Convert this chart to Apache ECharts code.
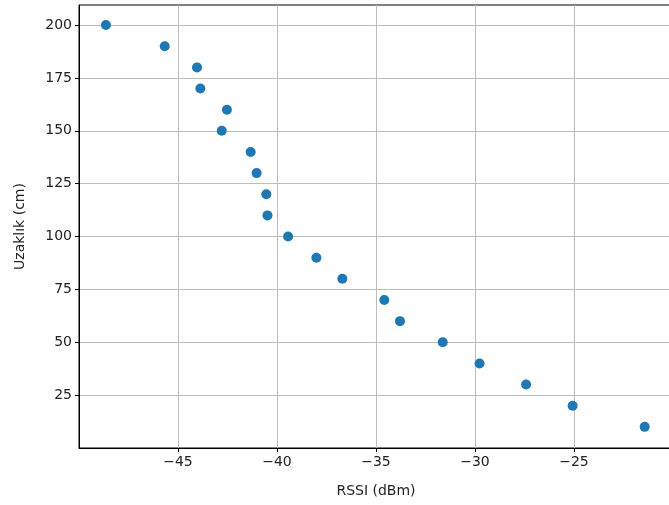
<!DOCTYPE html>
<html>
<head>
<meta charset="utf-8">
<script src="https://cdn.jsdelivr.net/npm/echarts@6/dist/echarts.min.js"></script>
<style>
html,body{margin:0;padding:0;background:#fff;}
#chart{width:669px;height:505px;}
</style>
</head>
<body>
<div id="chart"></div>
<script>
const rssi = [-48.64, -45.67, -44.04, -43.87, -42.53, -42.79, -41.33, -41.03, -40.54, -40.48,
              -39.44, -38.01, -36.70, -34.58, -33.79, -31.63, -29.77, -27.42, -25.07, -21.43];
const distance = [200, 190, 180, 170, 160, 150, 140, 130, 120, 110,
                  100, 90, 80, 70, 60, 50, 40, 30, 20, 10];
const xTicks = [-45, -40, -35, -30, -25];
const yTicks = [25, 50, 75, 100, 125, 150, 175, 200];
const xTitle = 'RSSI (dBm)';
const yTitle = 'Uzaklık (cm)';

const points = rssi.map((v, i) => [v, distance[i]]);
const font = 'DejaVu Sans';
const chart = echarts.init(document.getElementById('chart'));
chart.setOption({
  animation: false,
  backgroundColor: '#fff',
  grid: {left: 79, top: 5, width: 594, height: 443, outerBoundsMode: 'none', containLabel: false,
         show: true, borderColor: '#000', borderWidth: 1, backgroundColor: 'transparent'},
  xAxis: {
    type: 'value', min: -50, max: -20, interval: 5,
    name: xTitle, nameLocation: 'middle', nameGap: 36,
    nameTextStyle: {fontFamily: font, fontSize: 14, color: '#222'},
    axisLine: {show: true, lineStyle: {color: '#000', width: 1}},
    axisTick: {show: true, length: 4, inside: false, lineStyle: {color: '#000'}, customValues: xTicks},
    axisLabel: {fontFamily: font, fontSize: 14, color: '#222', margin: 7, customValues: xTicks,
      formatter: v => String(v).replace('-', '\u2212')},
    splitLine: {show: true, lineStyle: {color: '#bdbdbd', width: 1}}
  },
  yAxis: {
    type: 'value', min: 0, max: 209.5, interval: 25,
    name: yTitle, nameLocation: 'middle', nameGap: 52, nameRotate: 90,
    nameTextStyle: {fontFamily: font, fontSize: 14, color: '#222'},
    axisLine: {show: true, lineStyle: {color: '#000', width: 1}},
    axisTick: {show: true, length: 4, lineStyle: {color: '#000'}, customValues: yTicks},
    axisLabel: {fontFamily: font, fontSize: 14, color: '#222', margin: 7, customValues: yTicks},
    splitLine: {show: true, lineStyle: {color: '#bdbdbd', width: 1}}
  },
  series: [{
    type: 'scatter',
    data: points,
    symbol: 'circle',
    symbolSize: 10,
    itemStyle: {color: '#1f77b4', opacity: 1},
    emphasis: {disabled: true}
  }]
});
</script>
</body>
</html>
